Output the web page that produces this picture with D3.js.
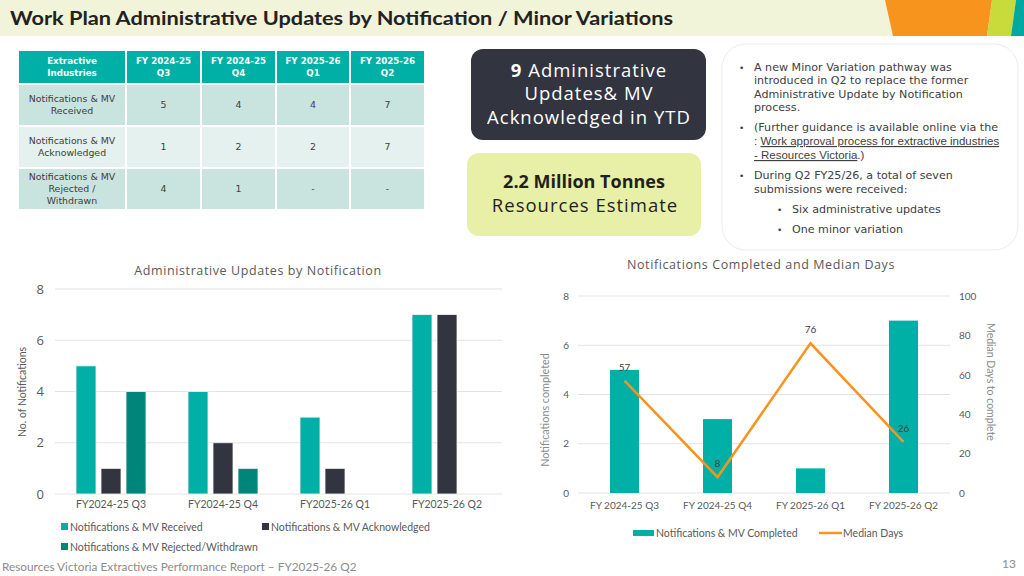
<script src="https://d3js.org/d3.v7.min.js"></script>
<style>
  body { margin: 0; background: #fff; }
  svg { font-family: Lato, "Open Sans", sans-serif; }
</style>
<svg width=1024 height=576></svg>

<script>
// ---- data ----
var tableHead = ['Extractive\nIndustries', 'FY 2024-25\nQ3', 'FY 2024-25\nQ4', 'FY 2025-26\nQ1', 'FY 2025-26\nQ2'];
var tableRows = [
  ['Notifications & MV\nReceived', '5', '4', '4', '7'],
  ['Notifications & MV\nAcknowledged', '1', '2', '2', '7'],
  ['Notifications & MV\nRejected /\nWithdrawn', '4', '1', '-', '-']
];

var leftCats = ['FY2024-25 Q3', 'FY2024-25 Q4', 'FY2025-26 Q1', 'FY2025-26 Q2'];
var received = [5, 4, 3, 7];
var acknowledged = [1, 2, 1, 7];
var rejected = [4, 1, 0, 0];
var leftSeries = ['Notifications & MV Received', 'Notifications & MV Acknowledged', 'Notifications & MV Rejected/Withdrawn'];

var rightCats = ['FY 2024-25 Q3', 'FY 2024-25 Q4', 'FY 2025-26 Q1', 'FY 2025-26 Q2'];
var completed = [5, 3, 1, 7];
var medianDays = [57, 8, 76, 26];

var leftTicks = [0, 2, 4, 6, 8];
var rightTicksL = [0, 2, 4, 6, 8];
var rightTicksR = [0, 20, 40, 60, 80, 100];

var teal = '#00b0a6', dark = '#32343f', darkTeal = '#00857a', orange = '#f7941d';
var grey = '#595959';
var wide = '"Open Sans", Lato, sans-serif';
var dejavu = '"DejaVu Sans", "Open Sans", sans-serif';
var arial = '"Liberation Sans", Arial, sans-serif';

var svg = d3.select('svg');

// ---- header band ----
svg.append('rect').attr('x', 0).attr('y', 0).attr('width', 1024).attr('height', 36).attr('fill', '#f1f4d9');
svg.append('path').attr('d', 'M885,0 L992,0 L987,36 L893,36 Z').attr('fill', '#f7941d');
svg.append('path').attr('d', 'M992,0 L1016,0 L1011,36 L987,36 Z').attr('fill', '#c8db3a');
svg.append('path').attr('d', 'M1016,0 L1024,0 L1024,36 L1011,36 Z').attr('fill', '#00a9a0');
svg.append('text').attr('x', 10).attr('y', 25)
  .attr('font-size', 19.5).attr('font-weight', 'bold').attr('fill', '#222')
  .attr('textLength', 663).attr('lengthAdjust', 'spacingAndGlyphs')
  .text('Work Plan Administrative Updates by Notification / Minor Variations');

// ---- table ----
var colX = [18, 126, 201, 276, 350, 425];
var rowY = [50, 84, 126, 168, 210];
var rowFill = ['#00b0a6', '#c9e3df', '#e4f1ee', '#c9e3df'];
var allRows = [tableHead].concat(tableRows);

var tbl = svg.append('g').attr('font-family', dejavu);
allRows.forEach(function(row, ri) {
  row.forEach(function(cell, ci) {
    var x0 = colX[ci], x1 = colX[ci + 1], y0 = rowY[ri], y1 = rowY[ri + 1];
    tbl.append('rect').attr('x', x0 + 1).attr('y', y0 + 1)
      .attr('width', x1 - x0 - 2).attr('height', y1 - y0 - 2)
      .attr('fill', rowFill[ri]);
    var lines = cell.split('\n');
    var fs = ri === 0 ? 8.7 : 9.4;
    var lh = ri === 0 ? 11.5 : 12;
    var cy = (y0 + y1) / 2 - (lines.length - 1) * lh / 2 + fs * 0.36;
    var t = tbl.append('text').attr('text-anchor', 'middle')
      .attr('font-size', fs)
      .attr('font-weight', ri === 0 ? 'bold' : 'normal')
      .attr('fill', ri === 0 ? '#fff' : '#404040');
    lines.forEach(function(l, li) {
      t.append('tspan').attr('x', (x0 + x1) / 2).attr('y', cy + li * lh).text(l);
    });
  });
});

// ---- KPI boxes ----
svg.append('rect').attr('x', 471).attr('y', 49).attr('width', 235).attr('height', 91).attr('rx', 12).attr('fill', dark);
var k1 = svg.append('text').attr('text-anchor', 'middle').attr('font-size', 18.5).attr('fill', '#fff')
  .attr('font-family', wide).attr('letter-spacing', 1);
k1.append('tspan').attr('x', 589).attr('y', 77).attr('font-weight', 'bold').text('9');
k1.append('tspan').text(' Administrative');
k1.append('tspan').attr('x', 589).attr('y', 100).text('Updates& MV');
k1.append('tspan').attr('x', 589).attr('y', 124).text('Acknowledged in YTD');

svg.append('rect').attr('x', 467).attr('y', 153).attr('width', 234).attr('height', 83).attr('rx', 12).attr('fill', '#e8efa6');
svg.append('text').attr('x', 584).attr('y', 188).attr('text-anchor', 'middle').attr('font-size', 18)
  .attr('font-family', wide).attr('font-weight', 'bold').attr('fill', '#1f1f1f').text('2.2 Million Tonnes');
svg.append('text').attr('x', 585).attr('y', 212).attr('text-anchor', 'middle').attr('font-size', 18.5)
  .attr('font-family', wide).attr('letter-spacing', 1).attr('fill', '#1f1f1f').text('Resources Estimate');

// ---- notes panel ----
svg.append('rect').attr('x', 722).attr('y', 44).attr('width', 296).attr('height', 206).attr('rx', 24)
  .attr('fill', '#fff').attr('stroke', '#ececec');
var notes = svg.append('g').attr('fill', '#404040').attr('font-size', 11.1).attr('font-family', dejavu);
function bullet(x, y) {
  notes.append('text').attr('x', x).attr('y', y).attr('font-size', 9).text('•');
}
bullet(739, 71);
['A new Minor Variation pathway was', 'introduced in Q2 to replace the former',
 'Administrative Update by Notification', 'process.'].forEach(function(l, i) {
  notes.append('text').attr('x', 754).attr('y', 71 + i * 13.4).text(l);
});
bullet(739, 131);
notes.append('text').attr('x', 754).attr('y', 131).text('(Further guidance is available online via the');
var ln = notes.append('text').attr('x', 754).attr('y', 145).attr('font-family', arial).attr('font-size', 11.5);
ln.append('tspan').text(': ');
ln.append('tspan').attr('text-decoration', 'underline').text('Work approval process for extractive industries');
var ln2 = notes.append('text').attr('x', 754).attr('y', 159).attr('font-family', arial).attr('font-size', 11.5);
ln2.append('tspan').attr('text-decoration', 'underline').text('- Resources Victoria');
ln2.append('tspan').text('.)');
bullet(739, 179);
notes.append('text').attr('x', 754).attr('y', 179).text('During Q2 FY25/26, a total of seven');
notes.append('text').attr('x', 754).attr('y', 193).text('submissions were received:');
bullet(777, 213);
notes.append('text').attr('x', 792).attr('y', 213).text('Six administrative updates');
bullet(777, 233);
notes.append('text').attr('x', 792).attr('y', 233).text('One minor variation');

// ---- left chart ----
var lx = d3.scaleBand().domain(leftCats).range([55, 503]).padding(0);
var lInner = d3.scaleBand().domain(leftSeries).range([-37.5, 37.5]).paddingInner(0.2).paddingOuter(0.1);
var ly = d3.scaleLinear().domain([0, 8]).range([494, 289]);
var leftColors = d3.scaleOrdinal().domain(leftSeries).range([teal, dark, darkTeal]);

var lc = svg.append('g');
lc.append('text').attr('x', 258).attr('y', 275).attr('text-anchor', 'middle').attr('font-size', 12.5)
  .attr('font-family', wide).attr('letter-spacing', 0.6).attr('fill', grey).text('Administrative Updates by Notification');

lc.append('g').selectAll('line').data(leftTicks).enter().append('line')
  .attr('x1', 55).attr('x2', 502).attr('y1', d => ly(d)).attr('y2', d => ly(d))
  .attr('stroke', '#e3e3e3').attr('stroke-width', 1);

var lAxis = lc.append('g').attr('transform', 'translate(44,0)')
  .call(d3.axisLeft(ly).tickValues(leftTicks).tickSize(0).tickPadding(0));
lAxis.select('.domain').remove();
lAxis.selectAll('text').attr('font-size', 13).attr('fill', grey).attr('font-family', wide);

var lxAxis = lc.append('g').attr('transform', 'translate(0,501)')
  .call(d3.axisBottom(lx).tickSize(0).tickPadding(0));
lxAxis.select('.domain').remove();
lxAxis.selectAll('text').attr('font-size', 10.5).attr('fill', grey).attr('font-family', 'Lato, sans-serif').attr('dy', '0.71em');

lc.append('text').attr('transform', 'translate(26,392) rotate(-90)').attr('text-anchor', 'middle')
  .attr('font-size', 10.5).attr('fill', grey).text('No. of Notifications');

var leftData = [];
leftCats.forEach(function(c, i) {
  leftData.push({cat: c, s: leftSeries[0], v: received[i]});
  leftData.push({cat: c, s: leftSeries[1], v: acknowledged[i]});
  leftData.push({cat: c, s: leftSeries[2], v: rejected[i]});
});
lc.append('g').selectAll('rect').data(leftData.filter(d => d.v > 0)).enter().append('rect')
  .attr('x', d => lx(d.cat) + lx.bandwidth() / 2 + lInner(d.s))
  .attr('width', lInner.bandwidth())
  .attr('y', d => ly(d.v))
  .attr('height', d => ly(0) - ly(d.v))
  .attr('fill', d => leftColors(d.s))
  .attr('stroke', '#f4f4f4').attr('stroke-width', 0.8);

var lLegPos = [[61, 523], [262, 523], [61, 543]];
leftSeries.forEach(function(s, i) {
  lc.append('rect').attr('x', lLegPos[i][0]).attr('y', lLegPos[i][1]).attr('width', 7).attr('height', 7).attr('fill', leftColors(s));
  lc.append('text').attr('x', lLegPos[i][0] + 9).attr('y', lLegPos[i][1] + 7.5).attr('font-size', 10.5)
    .attr('fill', grey).text(s);
});

// ---- right chart ----
var rx = d3.scaleBand().domain(rightCats).range([578, 950]).padding(0);
var ryL = d3.scaleLinear().domain([0, 8]).range([493, 296]);
var ryR = d3.scaleLinear().domain([0, 100]).range([493, 296]);
var barW = 29;

var rc = svg.append('g');
rc.append('text').attr('x', 761).attr('y', 269).attr('text-anchor', 'middle').attr('font-size', 12.5)
  .attr('font-family', wide).attr('letter-spacing', 0.6).attr('fill', grey).text('Notifications Completed and Median Days');

rc.append('g').selectAll('line').data(rightTicksL).enter().append('line')
  .attr('x1', 578).attr('x2', 950).attr('y1', d => ryL(d)).attr('y2', d => ryL(d))
  .attr('stroke', '#e3e3e3');

var rAxL = rc.append('g').attr('transform', 'translate(569,0)')
  .call(d3.axisLeft(ryL).tickValues(rightTicksL).tickSize(0).tickPadding(0));
rAxL.select('.domain').remove();
rAxL.selectAll('text').attr('font-size', 10).attr('fill', grey).attr('font-family', 'Lato, sans-serif');

var rAxR = rc.append('g').attr('transform', 'translate(959,0)')
  .call(d3.axisRight(ryR).tickValues(rightTicksR).tickSize(0).tickPadding(0));
rAxR.select('.domain').remove();
rAxR.selectAll('text').attr('font-size', 10).attr('fill', grey).attr('font-family', 'Lato, sans-serif');

var rxAxis = rc.append('g').attr('transform', 'translate(0,502)')
  .call(d3.axisBottom(rx).tickSize(0).tickPadding(0));
rxAxis.select('.domain').remove();
rxAxis.selectAll('text').attr('font-size', 10).attr('fill', grey).attr('font-family', 'Lato, sans-serif').attr('dy', '0.71em');

rc.append('text').attr('transform', 'translate(549,410) rotate(-90)').attr('text-anchor', 'middle')
  .attr('font-size', 10.8).attr('fill', '#8a8a8a').text('Notifications completed');
rc.append('text').attr('transform', 'translate(987,382) rotate(90)').attr('text-anchor', 'middle')
  .attr('font-size', 10.5).attr('fill', '#8a8a8a').text('Median Days to complete');

var cx = d => rx(d) + rx.bandwidth() / 2;
rc.append('g').selectAll('rect').data(rightCats).enter().append('rect')
  .attr('x', d => cx(d) - barW / 2).attr('width', barW)
  .attr('y', (d, i) => ryL(completed[i]))
  .attr('height', (d, i) => ryL(0) - ryL(completed[i]))
  .attr('fill', teal);

var line = d3.line().x((d, i) => cx(rightCats[i])).y(d => ryR(d));
rc.append('path').datum(medianDays).attr('d', line).attr('fill', 'none')
  .attr('stroke', orange).attr('stroke-width', 2.5);

rc.append('g').selectAll('text').data(medianDays).enter().append('text')
  .attr('x', (d, i) => cx(rightCats[i])).attr('y', d => ryR(d) - 10)
  .attr('text-anchor', 'middle').attr('font-size', 10).attr('fill', '#404040').text(d => d);

rc.append('rect').attr('x', 633).attr('y', 530).attr('width', 21).attr('height', 6).attr('fill', teal);
rc.append('text').attr('x', 656).attr('y', 536.5).attr('font-size', 10.5).attr('fill', grey).text('Notifications & MV Completed');
rc.append('line').attr('x1', 819).attr('x2', 842).attr('y1', 533).attr('y2', 533).attr('stroke', orange).attr('stroke-width', 2.5);
rc.append('text').attr('x', 843).attr('y', 536.5).attr('font-size', 10.5).attr('fill', grey).text('Median Days');

// ---- footer ----
svg.append('text').attr('x', 2).attr('y', 571).attr('font-size', 11.8).attr('fill', '#8c8c8c')
  .text('Resources Victoria Extractives Performance Report \u2013 FY2025-26 Q2');
svg.append('text').attr('x', 1016).attr('y', 568).attr('text-anchor', 'end').attr('font-size', 12).attr('fill', '#8c8c8c').text('13');
</script>
